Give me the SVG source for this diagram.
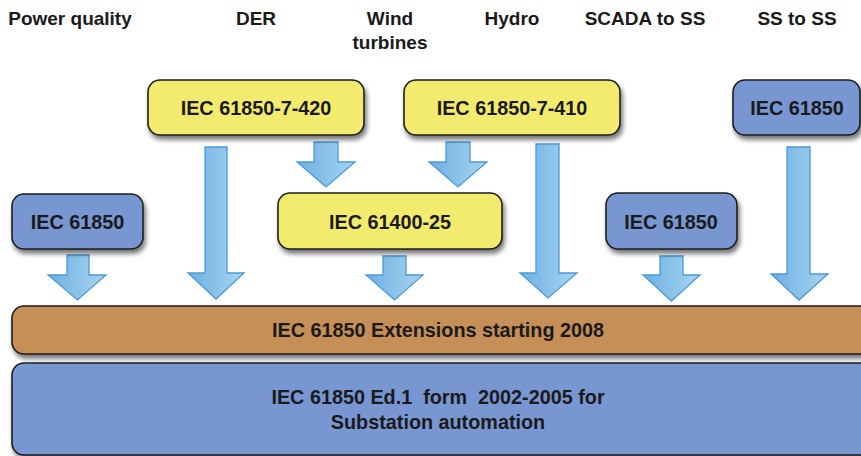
<svg xmlns="http://www.w3.org/2000/svg" width="861" height="456" viewBox="0 0 861 456">
<defs>
<linearGradient id="ag" x1="0" y1="0" x2="1" y2="0">
<stop offset="0" stop-color="#6cb0e2"/>
<stop offset="1" stop-color="#a9d4f0"/>
</linearGradient>
<filter id="sh" x="-10%" y="-20%" width="125%" height="160%">
<feGaussianBlur in="SourceAlpha" stdDeviation="2.5"/>
<feOffset dx="2" dy="4" result="b"/>
<feComponentTransfer><feFuncA type="linear" slope="0.55"/></feComponentTransfer>
<feMerge><feMergeNode/><feMergeNode in="SourceGraphic"/></feMerge>
</filter>
</defs>
<style>
text{font-family:"Liberation Sans",Arial,sans-serif;font-weight:bold;font-size:19px;fill:#1a1a1a;text-anchor:middle}
.t{font-size:19.8px}
.box{stroke:#1e1e1e;stroke-width:1.6;filter:url(#sh)}
.y{fill:#f3eb6e}
.b{fill:#7896d2}
.o{fill:#c68f58}
.arr{fill:url(#ag);stroke:#4b99d6;stroke-width:1.3;stroke-linejoin:miter}
</style>
<g id="headers">
<text x="70" y="25">Power quality</text>
<text x="256" y="25">DER</text>
<text x="390" y="25">Wind</text>
<text x="390" y="49">turbines</text>
<text x="512" y="25">Hydro</text>
<text x="645" y="25">SCADA to SS</text>
<text x="797" y="25">SS to SS</text>
</g>
<g id="connectors">
<path class="arr" d="M67,255 H89 V275 H106 L77.5,300 L48,275 H67 Z"/>
<path class="arr" d="M205,147 H227 V273 H244 L216,299 L188,273 H205 Z"/>
<path class="arr" d="M314,142 H338 V162 H355 L326,187 L297,162 H314 Z"/>
<path class="arr" d="M446,142 H470 V162 H487 L458,187 L429,162 H446 Z"/>
<path class="arr" d="M383,256 H406 V275 H423 L394.5,300 L366,275 H383 Z"/>
<path class="arr" d="M536,144 H559 V273 H577 L548,298 L520,273 H536 Z"/>
<path class="arr" d="M660,256 H683 V275 H700 L671.5,301 L643,275 H660 Z"/>
<path class="arr" d="M787,147 H810 V274 H828 L799,300 L771,274 H787 Z"/>
</g>
<g id="n-7-420">
<rect class="box y" x="148" y="80" width="216" height="55" rx="12"/>
<text class="t" x="256" y="115">IEC 61850-7-420</text>
</g>
<g id="n-7-410">
<rect class="box y" x="404" y="80" width="216" height="55" rx="12"/>
<text class="t" x="512" y="115">IEC 61850-7-410</text>
</g>
<g id="n-ss">
<rect class="box b" x="733" y="80" width="127" height="55" rx="12"/>
<text class="t" x="797" y="115">IEC 61850</text>
</g>
<g id="n-pq">
<rect class="box b" x="12" y="194" width="131" height="55" rx="12"/>
<text class="t" x="77.5" y="229">IEC 61850</text>
</g>
<g id="n-61400">
<rect class="box y" x="278" y="193" width="224" height="56" rx="12"/>
<text class="t" x="390" y="229">IEC 61400-25</text>
</g>
<g id="n-scada">
<rect class="box b" x="606" y="193" width="131" height="56" rx="12"/>
<text class="t" x="671" y="229">IEC 61850</text>
</g>
<g id="n-ext">
<rect class="box o" x="12" y="306" width="860" height="48" rx="12"/>
<text class="t" x="438" y="337">IEC 61850 Extensions starting 2008</text>
</g>
<g id="n-ed1">
<rect class="box b" x="12" y="363" width="860" height="92" rx="12"/>
<text class="t" x="438" y="404" xml:space="preserve">IEC 61850 Ed.1  form  2002-2005 for</text>
<text class="t" x="438" y="429">Substation automation</text>
</g>
</svg>
